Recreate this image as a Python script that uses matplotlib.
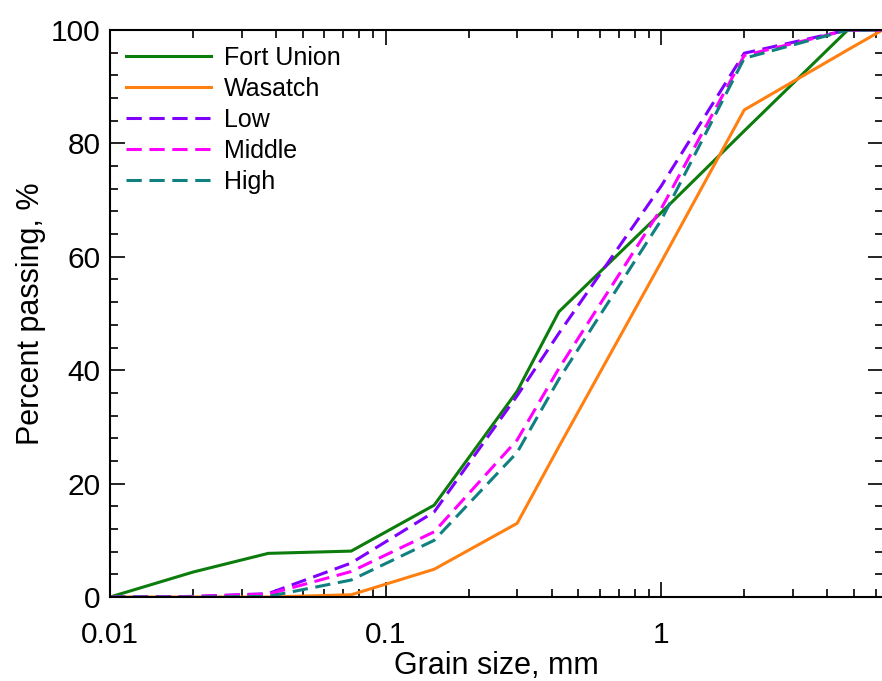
import matplotlib
matplotlib.use("Agg")
import matplotlib.pyplot as plt
from matplotlib.ticker import FixedLocator, FixedFormatter, LogLocator, MultipleLocator, NullFormatter

plt.rcParams["font.family"] = ["Liberation Sans", "DejaVu Sans"]

# sieve sizes, mm
sizes = [0.01, 0.02, 0.0375, 0.075, 0.15, 0.3, 0.425, 1.0, 2.0, 4.75, 6.35]

fort_union = [0, 4.4, 7.7, 8.1, 16.2, 36.3, 50.3, 67.8, 82.2, 100, 100]
wasatch = [0, 0, 0, 0.4, 4.9, 13.0, 26.5, 59.1, 85.9, 96.5, 100]
low = [0, 0.1, 0.6, 6.0, 15.0, 35.5, 46.5, 72.5, 95.9, 100, 100]
middle = [0, 0.1, 0.5, 4.5, 11.5, 27.7, 40.3, 68.5, 95.5, 100, 100]
high = [0, 0, 0.1, 3.0, 10.0, 25.5, 38.4, 66.5, 95.0, 100, 100]

fig = plt.figure(figsize=(8.82, 6.81), dpi=100)
ax = fig.add_axes([0.1247, 0.1233, 0.877, 0.8327])

lw = 2.2
ax.plot(sizes, fort_union, color="#0c7c0c", lw=lw, label="Fort Union")
ax.plot(sizes, wasatch, color="#ff8010", lw=lw, label="Wasatch")
ax.plot(sizes, low, color="#8000ff", lw=lw, dashes=(5, 2.5), label="Low")
ax.plot(sizes, middle, color="#ff00ff", lw=lw, dashes=(5, 2.5), label="Middle")
ax.plot(sizes, high, color="#108080", lw=lw, dashes=(5, 2.5), label="High")

ax.set_xscale("log")
ax.set_xlim(0.01, 6.4)
ax.set_ylim(0, 100)

ax.xaxis.set_major_locator(FixedLocator([0.01, 0.1, 1]))
ax.xaxis.set_major_formatter(FixedFormatter(["0.01", "0.1", "1"]))
ax.xaxis.set_minor_locator(LogLocator(base=10, subs=range(2, 10)))
ax.xaxis.set_minor_formatter(NullFormatter())
ax.yaxis.set_major_locator(MultipleLocator(20))
ax.yaxis.set_minor_locator(MultipleLocator(4))

ax.tick_params(which="both", direction="in", top=True, right=True, width=1.2, labelsize=21.5)
ax.tick_params(which="major", length=11)
ax.tick_params(which="minor", length=6)
ax.tick_params(axis="x", which="major", pad=17)
ax.tick_params(axis="y", which="major", pad=7)
for s in ax.spines.values():
    s.set_linewidth(1.5)

ax.set_xlabel("Grain size, mm", fontsize=22, labelpad=2)
ax.set_ylabel("Percent passing, %", fontsize=22, labelpad=3)

ax.legend(loc="upper left", frameon=False, fontsize=18, handlelength=3.4,
          handletextpad=0.5, labelspacing=0.28, borderaxespad=0.25)

fig.savefig("out.png", dpi=100)
